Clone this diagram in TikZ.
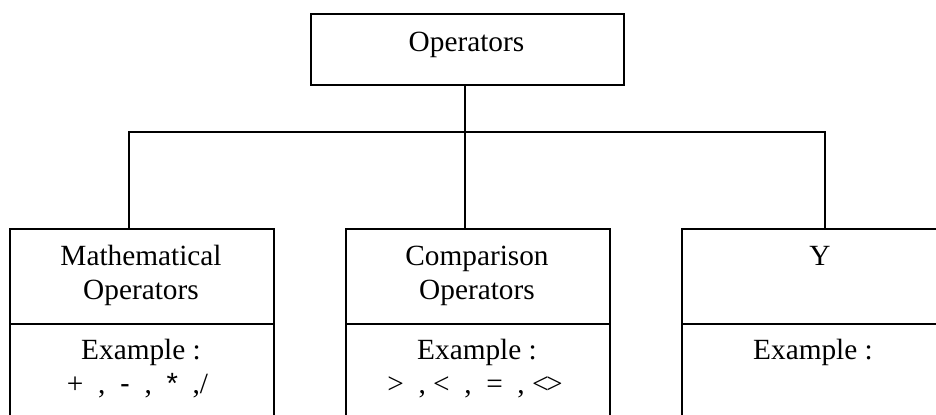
\documentclass[tikz,border=0pt]{standalone}
\usepackage{fontspec}
\setmainfont{Liberation Serif}
\newfontfamily\arialfont{Liberation Sans}
\begin{document}
\begin{tikzpicture}[x=0.5pt,y=-0.5pt,
  box/.style={draw,line width=1pt,rectangle,inner sep=0pt,anchor=north west},
  lbl/.style={anchor=base,inner sep=0pt,font=\fontsize{14.65}{17}\selectfont},
  wire/.style={line width=1pt,line join=miter}]
\useasboundingbox (0,0) rectangle (936,415);
\clip (0,0) rectangle (936,415);
% root
\node[box,minimum width=156.5pt,minimum height=35.5pt] (top) at (310,13) {};
\node[lbl] (topT) at (466.5,51.7) {Operators};
% left
\node[box,minimum width=132pt,minimum height=47.5pt] (mathbox) at (9,228) {};
\node[box,minimum width=132pt,minimum height=60pt] (mathex) at (9,323) {};
\node[lbl] (mathA) at (141,266) {Mathematical};
\node[lbl] (mathB) at (141,300) {Operators};
\node[lbl] (mathC) at (141,360) {Example :};
\node[lbl] (mathD) at (137.5,394) {+\ \ ,\ \ {\arialfont -}\ \ ,\ \ {\arialfont *}\ \ ,/};
% middle
\node[box,minimum width=132pt,minimum height=47.5pt] (cmpbox) at (345,228) {};
\node[box,minimum width=132pt,minimum height=60pt] (cmpex) at (345,323) {};
\node[lbl] (cmpA) at (477,266) {Comparison};
\node[lbl] (cmpB) at (477,300) {Operators};
\node[lbl] (cmpC) at (477,360) {Example :};
\node[lbl] (cmpD) at (475,394) {>\ \ ,\ <\ \ ,\ \ =\ \ ,\ <\kern-0.085em>};
% right
\node[box,minimum width=156pt,minimum height=47.5pt] (ybox) at (681,228) {};
\node[box,minimum width=156pt,minimum height=60pt] (yex) at (681,323) {};
\node[lbl] (yA) at (820,266) {Y};
\node[lbl] (yC) at (813,360) {Example :};
% connectors
\coordinate (busL) at (128.7,132);
\coordinate (busM) at (465,132);
\coordinate (busR) at (825,132);
\draw[wire] (busL |- mathbox.north) -- (busL) -- (busR) -- (busR |- ybox.north);
\draw[wire] (busM |- top.south) -- (busM |- cmpbox.north);
\end{tikzpicture}
\end{document}
